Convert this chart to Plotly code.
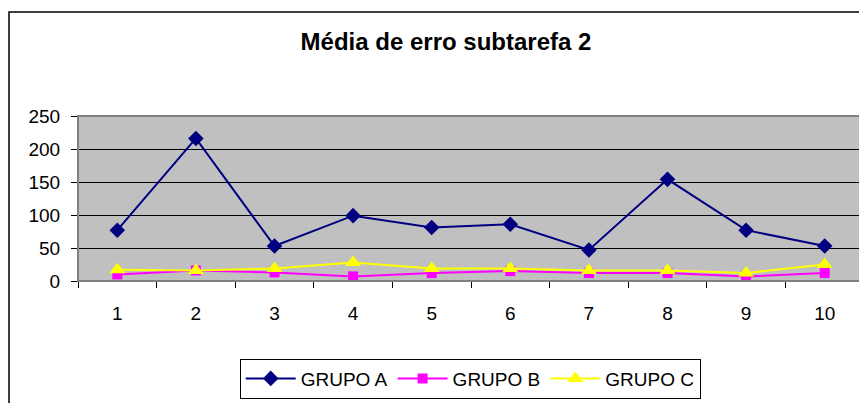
import plotly.graph_objects as go

categories = ["1", "2", "3", "4", "5", "6", "7", "8", "9", "10"]
grupo_a = [77, 216, 53, 99, 81, 86, 47, 154, 77, 53]
grupo_b = [10, 16, 13, 7, 12, 15, 12, 12, 7, 12]
grupo_c = [17, 16, 19, 28, 19, 19, 16, 16, 12, 25]
y_ticks = [0, 50, 100, 150, 200, 250]

FONT = "Liberation Sans, Arial, sans-serif"

fig = go.Figure()
fig.add_trace(go.Scatter(x=categories, y=grupo_a, name="GRUPO A", mode="lines+markers",
                         line=dict(color="#000080", width=2),
                         marker=dict(symbol="diamond", size=12, color="#000080")))
fig.add_trace(go.Scatter(x=categories, y=grupo_b, name="GRUPO B", mode="lines+markers",
                         line=dict(color="#FF00FF", width=2),
                         marker=dict(symbol="square", size=10, color="#FF00FF")))
fig.add_trace(go.Scatter(x=categories, y=grupo_c, name="GRUPO C", mode="lines+markers",
                         line=dict(color="#FFFF00", width=2),
                         marker=dict(symbol="triangle-up", size=14, color="#FFFF00")))

L, T, R, B = 70, 108, 11, 130
PW, PH = 867 - L - R, 403 - T - B

fig.update_layout(
    width=867, height=403,
    margin=dict(l=L, r=R, t=T, b=B),
    paper_bgcolor="white",
    plot_bgcolor="#C0C0C0",
    font=dict(family=FONT, color="black", size=19),
    title=dict(text="<b>Média de erro subtarefa 2</b>", x=438 / 867, xanchor="center",
               y=1 - 34 / 403, yanchor="middle", font=dict(size=24, family=FONT)),
    showlegend=True,
    legend=dict(orientation="h", x=0.499, xanchor="center", y=-0.47, yanchor="top",
                bordercolor="black", borderwidth=1, bgcolor="white",
                font=dict(size=19), tracegroupgap=0, itemwidth=50),
    xaxis=dict(type="category", range=[-0.5, 9.5], tickson="boundaries",
               ticks="outside", ticklen=6, tickcolor="black", showline=True,
               linecolor="black", linewidth=1, showgrid=False, zeroline=False,
               ticklabelstandoff=15, tickfont=dict(size=19)),
    yaxis=dict(range=[0, 250], tickvals=y_ticks, ticks="outside", ticklen=6,
               tickcolor="black", showline=True, linecolor="black", linewidth=1,
               showgrid=True, gridcolor="black", gridwidth=1, zeroline=False,
               ticklabelstandoff=7, tickfont=dict(size=19)),
    shapes=[
        dict(type="rect", xref="paper", yref="paper", x0=0, x1=1, y0=0, y1=1,
             line=dict(color="#808080", width=2), fillcolor="rgba(0,0,0,0)", layer="above"),
        dict(type="rect", xref="paper", yref="paper", x0=(1 - L) / PW, x1=(875 - L) / PW,
             y0=(PH + T - 430) / PH, y1=(PH + T - 4) / PH,
             line=dict(color="black", width=1.5), fillcolor="rgba(0,0,0,0)", layer="below"),
    ],
)

fig.write_html("out.html")
